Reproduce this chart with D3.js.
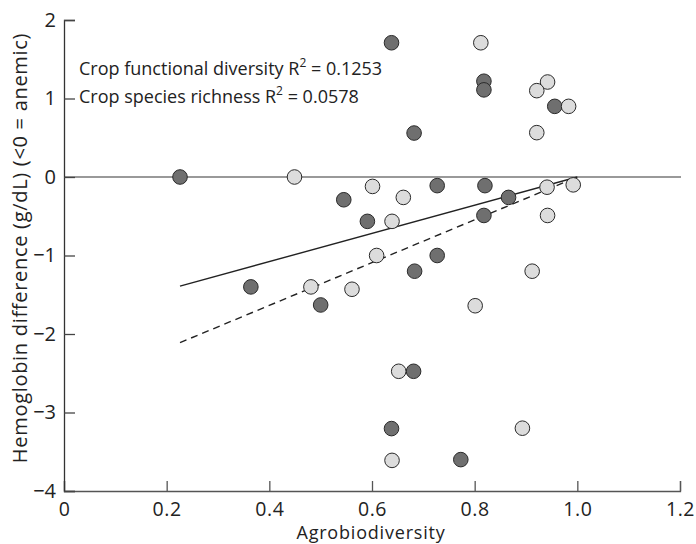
<!DOCTYPE html>
<html>
<head>
<meta charset="utf-8">
<script src="https://cdn.jsdelivr.net/npm/d3@7"></script>
<style>
  body { margin: 0; background: #fff; }
  text { font-family: "Open Sans", sans-serif; fill: #222; }
</style>
</head>
<body>
<div id="chart"></div>
<script>
// Crop functional diversity (dark points)
var darkX = [0.226, 0.364, 0.500, 0.545, 0.591, 0.638, 0.682, 0.727, 0.820, 0.866,
             0.818, 0.727, 0.683, 0.818, 0.818, 0.956, 0.681, 0.638, 0.773];
var darkY = [0, -1.40, -1.63, -0.29, -0.565, 1.71, 0.56, -0.11, -0.11, -0.26,
             -0.49, -1.0, -1.20, 1.22, 1.11, 0.90, -2.475, -3.205, -3.60];

// Crop species richness (light points)
var lightX = [0.449, 0.601, 0.609, 0.481, 0.561, 0.661, 0.941, 0.992, 0.639, 0.942,
              0.912, 0.801, 0.812, 0.942, 0.921, 0.983, 0.921, 0.652, 0.893, 0.639];
var lightY = [0, -0.12, -1.0, -1.40, -1.43, -0.26, -0.13, -0.10, -0.565, -0.49,
              -1.20, -1.64, 1.71, 1.21, 1.10, 0.90, 0.565, -2.475, -3.20, -3.61];

// regression line end points
var fitX = [0.226, 1.0];
var solidFitY = [-1.39, 0.0];
var dashedFitY = [-2.11, 0.0];

var xTicks = [0, 0.2, 0.4, 0.6, 0.8, 1.0, 1.2];
var yTicks = [2, 1, 0, -1, -2, -3, -4];
var legendLabels = ["Crop functional diversity", "Crop species richness"];
var legendR2 = ["0.1253", "0.0578"];

var width = 696, height = 544;
var svg = d3.select("#chart").append("svg")
    .attr("width", width)
    .attr("height", height);

var x = d3.scaleLinear().domain([0, 1.2]).range([64, 680]);
var y = d3.scaleLinear().domain([-4, 2]).range([491, 20]);

// zero line
svg.append("line")
    .attr("x1", x(0)).attr("x2", x(1.2) + 1)
    .attr("y1", y(0)).attr("y2", y(0))
    .attr("stroke", "#777")
    .attr("stroke-width", 1.3);

// x axis (ticks pointing up)
var xAxis = svg.append("g")
    .attr("transform", "translate(0," + y(-4) + ")")
    .call(d3.axisBottom(x).tickValues(xTicks).tickSize(-10).tickPadding(11)
        .tickFormat(function (d) { return d === 0 ? "0" : d3.format(".1f")(d); }));
xAxis.select(".domain").attr("stroke", "#555").attr("stroke-width", 1.3);
xAxis.selectAll(".tick line").attr("stroke", "#555").attr("stroke-width", 1.3);
xAxis.selectAll("text")
    .style("font-size", "19.5px")
    .style("letter-spacing", "0.6px")
    .attr("fill", "#222");

// y axis (ticks pointing right)
var yAxis = svg.append("g")
    .attr("transform", "translate(" + x(0) + ",0)")
    .call(d3.axisLeft(y).tickValues(yTicks).tickSize(-11).tickPadding(8)
        .tickFormat(function (d) { return d < 0 ? "\u2212" + Math.abs(d) : d; }));
yAxis.select(".domain").attr("stroke", "#333").attr("stroke-width", 1.3);
yAxis.selectAll(".tick line").attr("stroke", "#444").attr("stroke-width", 1.3);
yAxis.selectAll("text").style("font-size", "20px").attr("fill", "#222");

// axis titles
svg.append("text")
    .attr("x", 371).attr("y", 539)
    .style("text-anchor", "middle")
    .style("font-size", "18px")
    .style("letter-spacing", "0.8px")
    .text("Agrobiodiversity");

svg.append("text")
    .attr("transform", "translate(27,248) rotate(-90)")
    .style("text-anchor", "middle")
    .style("font-size", "20px")
    .style("letter-spacing", "0.7px")
    .text("Hemoglobin difference (g/dL) (<0 = anemic)");

// regression lines
var line = d3.line()
    .x(function (d) { return x(d[0]); })
    .y(function (d) { return y(d[1]); });

svg.append("path")
    .datum(d3.zip(fitX, solidFitY))
    .attr("d", line)
    .attr("fill", "none")
    .attr("stroke", "#222")
    .attr("stroke-width", 1.4);

svg.append("path")
    .datum(d3.zip(fitX, dashedFitY))
    .attr("d", line)
    .attr("fill", "none")
    .attr("stroke", "#222")
    .attr("stroke-width", 1.4)
    .attr("stroke-dasharray", "7,5");

// points: dark first, light on top
svg.selectAll(".dark")
    .data(d3.zip(darkX, darkY))
    .enter()
    .append("circle")
    .attr("class", "dark")
    .attr("cx", function (d) { return x(d[0]); })
    .attr("cy", function (d) { return y(d[1]); })
    .attr("r", 7.3)
    .attr("fill", "#6f6f6f")
    .attr("stroke", "#2a2a2a")
    .attr("stroke-width", 1);

svg.selectAll(".light")
    .data(d3.zip(lightX, lightY))
    .enter()
    .append("circle")
    .attr("class", "light")
    .attr("cx", function (d) { return x(d[0]); })
    .attr("cy", function (d) { return y(d[1]); })
    .attr("r", 7.3)
    .attr("fill", "#dcdcdc")
    .attr("stroke", "#2a2a2a")
    .attr("stroke-width", 1);

// R2 labels
legendLabels.forEach(function (label, i) {
    var t = svg.append("text")
        .attr("x", 79)
        .attr("y", 75 + i * 28)
        .style("font-size", "18px");
    t.append("tspan").text(label + " R");
    t.append("tspan").attr("dy", -8).style("font-size", "12px").text("2");
    t.append("tspan").attr("dy", 8).text(" = " + legendR2[i]);
});
</script>
</body>
</html>
